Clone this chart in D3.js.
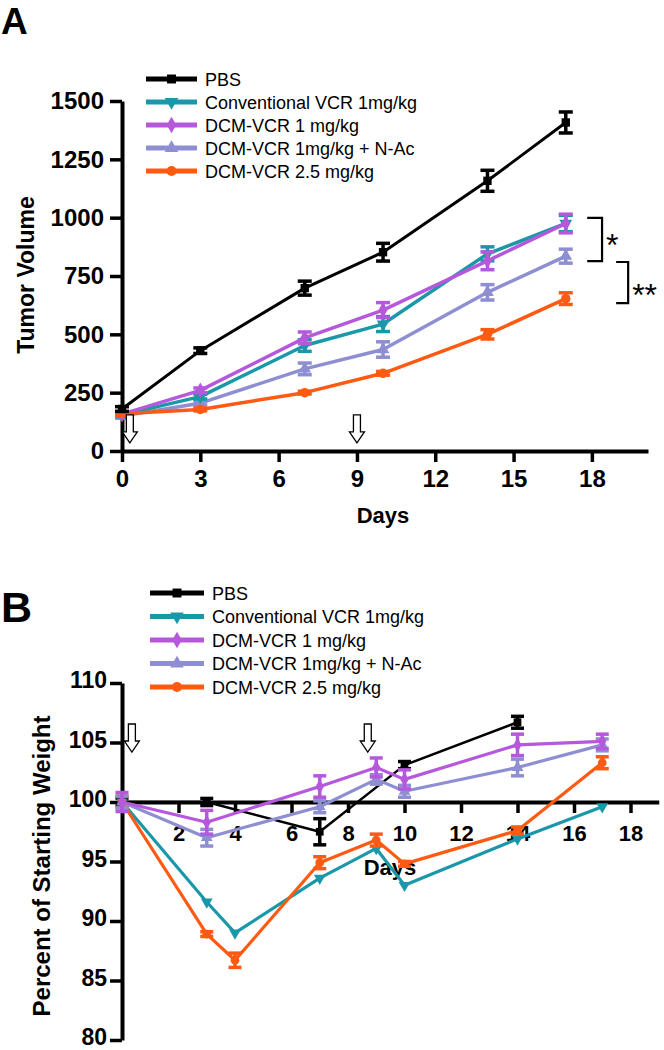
<!DOCTYPE html>
<html><head><meta charset="utf-8">
<script src="https://cdn.jsdelivr.net/npm/d3@7"></script>
<style>
body{margin:0;background:#fff}
text{font-family:"Liberation Sans",Arial,sans-serif;fill:#000}
</style></head>
<body><svg id="c" width="664" height="1050"></svg>
<script>
// ---------- data ----------
const seriesNames = ["PBS","Conventional VCR 1mg/kg","DCM-VCR 1 mg/kg","DCM-VCR 1mg/kg + N-Ac","DCM-VCR 2.5 mg/kg"];
const seriesColors = ["#000000","#1a97a8","#b558dc","#8e8ed2","#ff5a12"];
const seriesSymbols = ["square","down","diamond","up","circle"];

// Panel A: tumor volume
const daysA = [0,3,7,10,14,17];
const pbsA    = [180, 430, 698, 852, 1158, 1408];
const pbsAErr = [10, 12, 30, 38, 45, 45];
const convA    = [155, 233, 452, 544, 845, 975];
const convAErr = [8, 10, 25, 32, 30, 35];
const dcm1A    = [158, 260, 485, 604, 815, 975];
const dcm1AErr = [8, 10, 25, 32, 38, 40];
const nacA     = [150, 205, 352, 435, 680, 835];
const nacAErr  = [8, 8, 25, 33, 33, 30];
const dcm25A    = [160, 178, 250, 333, 500, 653];
const dcm25AErr = [8, 6, 6, 8, 20, 25];
const yTicksA = [0,250,500,750,1000,1250,1500];
const xTicksA = [0,3,6,9,12,15,18];
const arrowDaysA = [0.3, 9];

// Panel B: percent of starting weight
const pbsBDays = [0,3,7,10,14];
const pbsB     = [100, 100, 97.5, 103.1, 106.7];
const pbsBErr  = [0.3, 0.3, 1.1, 0.3, 0.5];
const convBDays = [0,3,4,7,9,10,14,17];
const convB     = [100, 91.6, 89.0, 93.6, 96.1, 93.0, 96.9, 99.6];
const convBErr  = [0,0,0,0,0,0,0,0];
const dcm1BDays = [0,3,7,9,10,14,17];
const dcm1B     = [100, 98.3, 101.3, 102.9, 101.9, 104.8, 105.1];
const dcm1BErr  = [0.8, 1.0, 0.9, 0.8, 0.8, 0.9, 0.6];
const nacBDays = [0,3,7,9,10,14,17];
const nacB     = [100, 97.0, 99.6, 101.9, 100.9, 102.9, 104.8];
const nacBErr  = [0.5, 0.7, 0.5, 0.4, 0.5, 0.7, 0.5];
const dcm25BDays = [0,3,4,7,9,10,14,17];
const dcm25B     = [100, 88.9, 86.7, 94.9, 96.8, 94.8, 97.6, 103.3];
const dcm25BErr  = [0.5, 0.2, 0.6, 0.5, 0.5, 0.2, 0.3, 0.5];
const yTicksB = [80,85,90,95,100,105,110];
const xTicksB = [2,4,6,8,10,12,14,16,18];
const arrowDaysB = [0.35, 8.7];

// ---------- drawing ----------
const svg = d3.select("#c");

function sym(type, size){
  const t = {square:d3.symbolSquare, down:d3.symbolTriangle, up:d3.symbolTriangle, diamond:d3.symbolDiamond, circle:d3.symbolCircle}[type];
  return d3.symbol().type(t).size(size)();
}

function drawSeries(g, x, y, days, vals, errs, color, symType, lw, cap, msize){
  const pts = days.map((d,i)=>({d, v:vals[i], e:errs[i]}));
  g.append("path").datum(pts)
    .attr("d", d3.line().x(p=>x(p.d)).y(p=>y(p.v)))
    .attr("fill","none").attr("stroke",color).attr("stroke-width",lw).attr("stroke-linejoin","round");
  pts.forEach(p=>{
    if(p.e>0){
      const y1=y(p.v+p.e), y2=y(p.v-p.e), cx=x(p.d);
      g.append("line").attr("x1",cx).attr("x2",cx).attr("y1",y1).attr("y2",y2).attr("stroke",color).attr("stroke-width",3.5);
      [y1,y2].forEach(yy=>g.append("line").attr("x1",cx-cap/2).attr("x2",cx+cap/2).attr("y1",yy).attr("y2",yy).attr("stroke",color).attr("stroke-width",3.5));
    }
    g.append("path").attr("d",sym(symType,msize))
      .attr("transform",`translate(${x(p.d)},${y(p.v)})${symType==="down"?" rotate(180)":""}`)
      .attr("fill",color);
  });
}

function drawLegend(g, x0, x1, tx, y0, dy){
  seriesNames.forEach((n,i)=>{
    const yy=y0+i*dy;
    g.append("line").attr("x1",x0).attr("x2",x1).attr("y1",yy).attr("y2",yy).attr("stroke",seriesColors[i]).attr("stroke-width",5);
    g.append("path").attr("d",sym(seriesSymbols[i],80))
      .attr("transform",`translate(${(x0+x1)/2},${yy})${seriesSymbols[i]==="down"?" rotate(180)":""}`)
      .attr("fill",seriesColors[i]);
    g.append("text").attr("x",tx).attr("y",yy+6.5).attr("font-size",18).text(n);
  });
}

function arrow(g, cx, tipY){
  const h=28, hh=11, sw=3.5, hw=7.5;
  const p = `M${cx-sw},${tipY-h} L${cx+sw},${tipY-h} L${cx+sw},${tipY-hh} L${cx+hw},${tipY-hh} L${cx},${tipY} L${cx-hw},${tipY-hh} L${cx-sw},${tipY-hh} Z`;
  g.append("path").attr("d",p).attr("fill","#fff").attr("stroke","#000").attr("stroke-width",1.3);
}

function styleAxis(sel, fs){
  sel.select(".domain").attr("stroke","#000").attr("stroke-width",4);
  sel.selectAll(".tick line").attr("stroke","#000").attr("stroke-width",3.5);
  sel.selectAll(".tick text").attr("font-size",fs).attr("font-weight","bold").attr("fill","#000")
     .attr("font-family","'Liberation Sans',Arial,sans-serif");
}

// ===== Panel A =====
const xA = d3.scaleLinear().domain([0,20.15]).range([122,648]);
const yA = d3.scaleLinear().domain([0,1500]).range([451,101]);
const gA = svg.append("g");

svg.append("text").attr("x",1).attr("y",34).attr("font-size",37).attr("font-weight","bold").text("A");

const axA_y = gA.append("g").attr("transform",`translate(${xA(0)},0)`)
  .call(d3.axisLeft(yA).tickValues(yTicksA).tickFormat(d3.format("d")).tickSize(12).tickPadding(6).tickSizeOuter(0));
styleAxis(axA_y, 24);
const axA_x = gA.append("g").attr("transform",`translate(0,${yA(0)})`)
  .call(d3.axisBottom(xA).tickValues(xTicksA).tickFormat(d3.format("d")).tickSize(11).tickPadding(8).tickSizeOuter(0));
styleAxis(axA_x, 24);

gA.append("text").attr("transform",`translate(34,275) rotate(-90)`).attr("text-anchor","middle")
  .attr("font-size",23).attr("font-weight","bold").text("Tumor Volume");
gA.append("text").attr("x",383).attr("y",523).attr("text-anchor","middle")
  .attr("font-size",22).attr("font-weight","bold").text("Days");

const dataA = [[pbsA,pbsAErr],[convA,convAErr],[dcm1A,dcm1AErr],[nacA,nacAErr],[dcm25A,dcm25AErr]];
[3,1,2,4,0].forEach(i=>{
  drawSeries(gA, xA, yA, daysA, dataA[i][0], dataA[i][1], seriesColors[i], seriesSymbols[i], i===0?3:3.5, 14, 70);
});
arrowDaysA.forEach(d=>arrow(gA, xA(d), yA(35)));
drawLegend(gA, 146, 197, 205, 79, 23);

// significance brackets
function bracket(g, xl, xr, v1, v2, label, ly){
  const y1=yA(v1), y2=yA(v2);
  g.append("path").attr("d",`M${xA(xl)},${y1} H${xA(xr)} V${y2} H${xA(xl)}`)
    .attr("fill","none").attr("stroke","#000").attr("stroke-width",2.2);
  g.append("text").attr("x",xA(xr)+4).attr("y",ly).attr("font-size",32).text(label);
}
bracket(gA, 17.82, 18.39, 999, 814, "*", 256);
bracket(gA, 18.93, 19.39, 810, 634, "**", 306);

// ===== Panel B =====
const xB = d3.scaleLinear().domain([0,19]).range([122,658.75]);
const yB = d3.scaleLinear().domain([80,110]).range([1040,683]);
const gB = svg.append("g");

svg.append("text").attr("x",1).attr("y",622).attr("font-size",43).attr("font-weight","bold").text("B");

const axB_y = gB.append("g").attr("transform",`translate(${xB(0)},0)`)
  .call(d3.axisLeft(yB).tickValues(yTicksB).tickFormat(d3.format("d")).tickSize(12).tickPadding(3).tickSizeOuter(0));
styleAxis(axB_y, 23);
axB_y.selectAll(".tick text").attr("dy","0.2em");
const axB_x = gB.append("g").attr("transform",`translate(0,${yB(100)})`)
  .call(d3.axisBottom(xB).tickValues(xTicksB).tickFormat(d3.format("d")).tickSize(11).tickPadding(12).tickSizeOuter(0));
styleAxis(axB_x, 22);

gB.append("text").attr("transform",`translate(50,866) rotate(-90)`).attr("text-anchor","middle")
  .attr("font-size",24).attr("font-weight","bold").text("Percent of Starting Weight");
gB.append("text").attr("x",390).attr("y",875).attr("text-anchor","middle")
  .attr("font-size",22).attr("font-weight","bold").text("Days");

const dataB = [[pbsBDays,pbsB,pbsBErr],[convBDays,convB,convBErr],[dcm1BDays,dcm1B,dcm1BErr],[nacBDays,nacB,nacBErr],[dcm25BDays,dcm25B,dcm25BErr]];
[0,1,4,3,2].forEach(i=>{
  drawSeries(gB, xB, yB, dataB[i][0], dataB[i][1], dataB[i][2], seriesColors[i], seriesSymbols[i], i===0?2.5:3.2, 13, 60);
});
arrowDaysB.forEach(d=>arrow(gB, xB(d), yB(104.2)));
drawLegend(gB, 150, 204, 212, 593, 23.5);
</script></body></html>
